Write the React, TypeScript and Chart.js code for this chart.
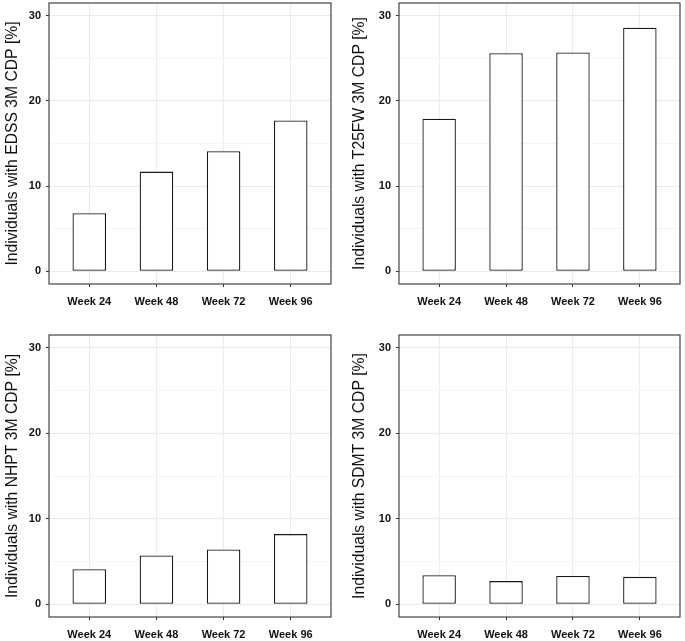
import React, { useEffect, useRef } from 'react';
import { Chart, registerables } from 'chart.js';

Chart.register(...registerables);

const categories = ['Week 24', 'Week 48', 'Week 72', 'Week 96'];
const edssValues = [6.8, 11.7, 14.1, 17.7];
const t25fwValues = [17.9, 25.6, 25.7, 28.6];
const nhptValues = [4.1, 5.7, 6.4, 8.2];
const sdmtValues = [3.4, 2.7, 3.3, 3.2];
const yMajorTicks = [0, 10, 20, 30];
const yMinorTicks = [5, 15, 25];
const yTitles = [
  'Individuals with EDSS 3M CDP [%]',
  'Individuals with T25FW 3M CDP [%]',
  'Individuals with NHPT 3M CDP [%]',
  'Individuals with SDMT 3M CDP [%]',
];

const MAJOR_GRID = '#EBEBEB';
const MINOR_GRID = '#F4F4F4';
const TICK_COLOR = '#333333';
const TEXT = '#111111';

type Layout = {
  left: number;
  top: number;
  width: number;
  height: number;
  padTop: number;
  padRight: number;
  yWidth: number;
  xHeight: number;
  titlePad: number;
};

const panelBorder = {
  id: 'panelBorder',
  afterDraw(chart: any) {
    const { ctx, chartArea } = chart;
    ctx.save();
    ctx.strokeStyle = '#444444';
    ctx.lineWidth = 1.2;
    ctx.strokeRect(chartArea.left, chartArea.top, chartArea.right - chartArea.left, chartArea.bottom - chartArea.top);
    ctx.restore();
  },
};

function Panel({ values, title, layout }: { values: number[]; title: string; layout: Layout }) {
  const ref = useRef<HTMLCanvasElement | null>(null);
  useEffect(() => {
    if (!ref.current) return;
    const chart = new Chart(ref.current, {
      type: 'bar',
      data: {
        datasets: [
          {
            data: categories.map((_, i) => ({ x: i + 1, y: values[i] })),
            backgroundColor: '#FFFFFF',
            borderColor: '#1A1A1A',
            borderWidth: 1.3,
            borderSkipped: false,
            barPercentage: 0.5,
            categoryPercentage: 1.0,
          } as any,
        ],
      },
      options: {
        animation: false,
        responsive: false,
        devicePixelRatio: 1,
        layout: { padding: { top: layout.padTop, right: layout.padRight, left: 0, bottom: 0 } },
        plugins: { legend: { display: false }, tooltip: { enabled: false } },
        scales: {
          x: {
            type: 'linear',
            min: 0.4,
            max: 4.6,
            offset: false,
            afterBuildTicks: (scale: any) => {
              scale.ticks = categories.map((_, i) => ({ value: i + 1 }));
            },
            afterFit: (scale: any) => {
              scale.height = layout.xHeight;
              scale.paddingLeft = 0;
              scale.paddingRight = 0;
            },
            border: { display: false },
            grid: { offset: false, color: MAJOR_GRID, tickColor: TICK_COLOR, tickLength: 3, lineWidth: 1 },
            ticks: {
              autoSkip: false,
              maxRotation: 0,
              padding: 8,
              color: TEXT,
              font: { family: 'Liberation Sans', size: 11, weight: 'bold' },
              callback: (v: any) => categories[Number(v) - 1] ?? '',
            },
          },
          y: {
            type: 'linear',
            min: -1.5,
            max: 31.5,
            afterBuildTicks: (scale: any) => {
              scale.ticks = [...yMajorTicks, ...yMinorTicks].sort((a, b) => a - b).map((v) => ({ value: v }));
            },
            afterFit: (scale: any) => {
              scale.width = layout.yWidth;
              scale.paddingTop = 0;
              scale.paddingBottom = 0;
            },
            border: { display: false },
            grid: {
              color: (ctx: any) => (yMajorTicks.includes(ctx.tick?.value) ? MAJOR_GRID : MINOR_GRID),
              tickColor: (ctx: any) => (yMajorTicks.includes(ctx.tick?.value) ? TICK_COLOR : 'rgba(0,0,0,0)'),
              tickLength: 3,
              lineWidth: 1,
            },
            ticks: {
              autoSkip: false,
              padding: 5,
              color: TEXT,
              font: { family: 'Liberation Sans', size: 11, weight: 'bold' },
              callback: (v: any) => (yMajorTicks.includes(Number(v)) ? String(v) : ''),
            },
            title: {
              display: true,
              text: title,
              color: TEXT,
              padding: { top: layout.titlePad, bottom: 0 },
              font: { family: 'Liberation Sans', size: 15.7, weight: 'normal' },
            },
          },
        },
      },
      plugins: [panelBorder],
    } as any);
    return () => chart.destroy();
  }, [values, title, layout]);
  return (
    <canvas
      ref={ref}
      width={layout.width}
      height={layout.height}
      style={{ position: 'absolute', left: layout.left, top: layout.top, width: layout.width, height: layout.height }}
    />
  );
}

const layouts: Layout[] = [
  { left: 0, top: 0, width: 342, height: 320, padTop: 3, padRight: 11, yWidth: 49, xHeight: 36, titlePad: 3 },
  { left: 342, top: 0, width: 343, height: 320, padTop: 3, padRight: 5, yWidth: 57, xHeight: 36, titlePad: 8 },
  { left: 0, top: 320, width: 342, height: 321, padTop: 15, padRight: 11, yWidth: 49, xHeight: 24, titlePad: 3 },
  { left: 342, top: 320, width: 343, height: 321, padTop: 15, padRight: 5, yWidth: 57, xHeight: 24, titlePad: 8 },
];

const seriesList = [edssValues, t25fwValues, nhptValues, sdmtValues];

export default function App() {
  return (
    <div style={{ position: 'absolute', left: 0, top: 0, width: 685, height: 641, background: '#FFFFFF', overflow: 'hidden' }}>
      {seriesList.map((vals, i) => (
        <Panel key={i} values={vals} title={yTitles[i]} layout={layouts[i]} />
      ))}
    </div>
  );
}
